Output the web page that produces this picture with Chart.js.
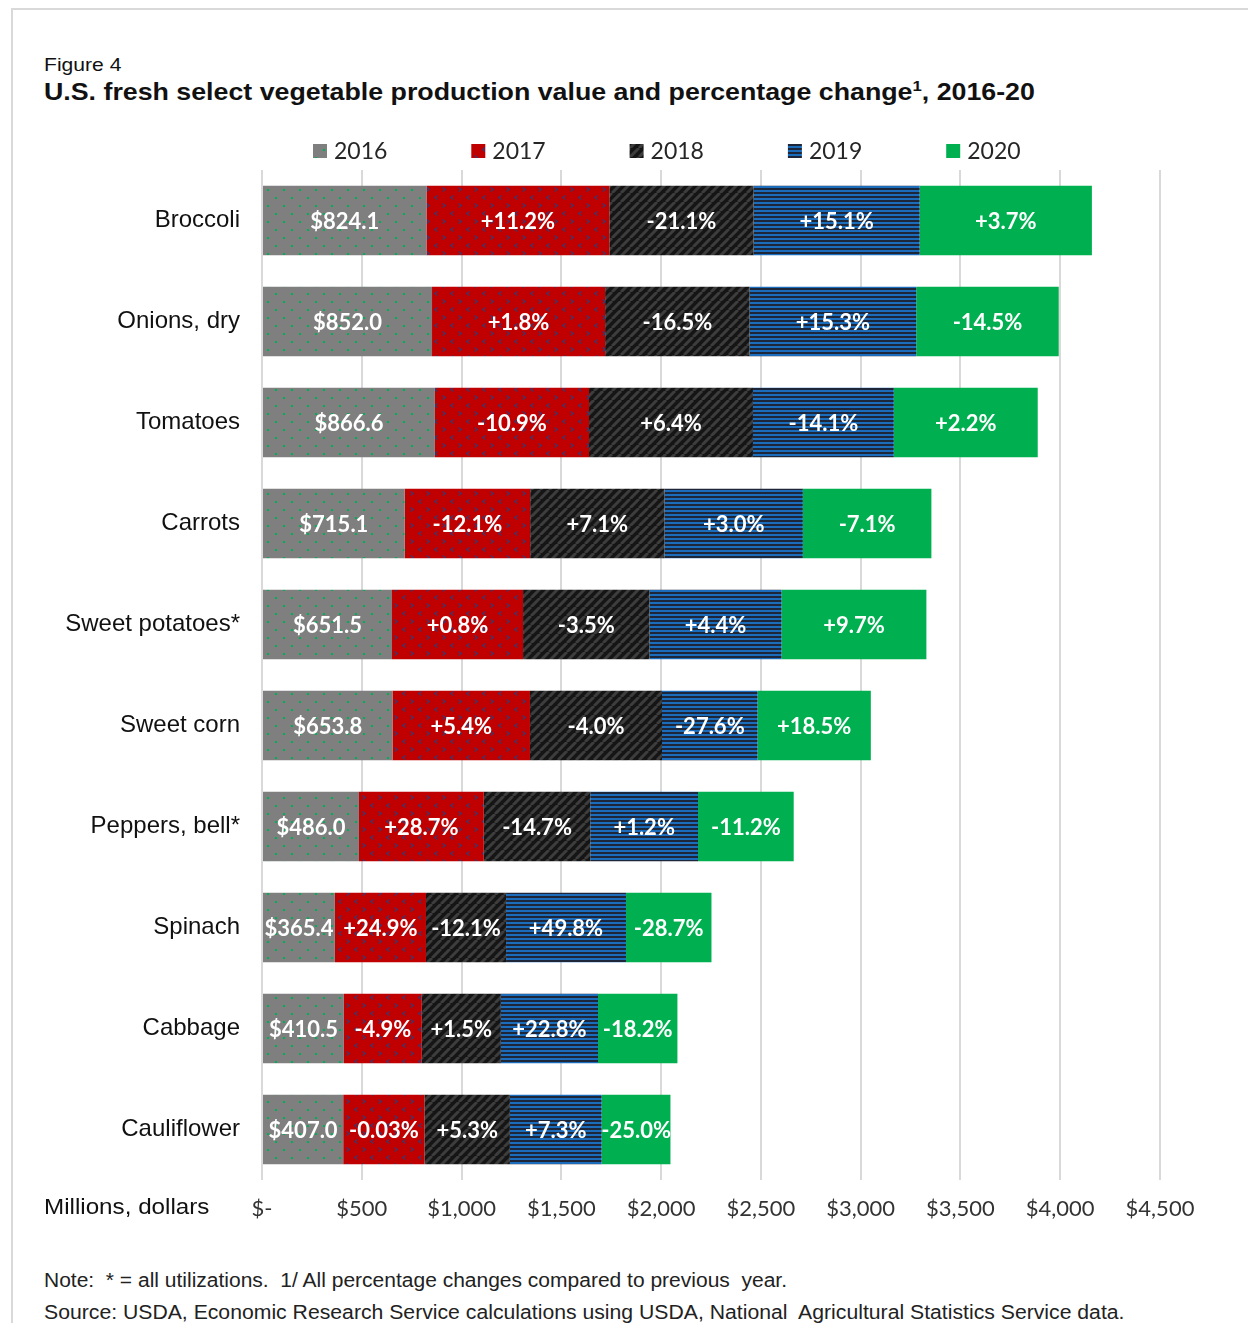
<!DOCTYPE html>
<html>
<head>
<meta charset="utf-8">
<title>Figure 4</title>
<script src="https://cdn.jsdelivr.net/npm/chart.js@4.4.1/dist/chart.umd.min.js"></script>
<style>
  body { margin: 0; background: #fff; width: 1248px; height: 1323px; overflow: hidden; position: relative; font-family: "Liberation Sans", Arial, sans-serif; }
  .frame { position: absolute; left: 11px; top: 8px; width: 1300px; height: 1400px; border: 2px solid #d9d9d9; }
  .txt { position: absolute; line-height: 1; white-space: pre; color: #111; transform-origin: left center; }
  #fig { left: 44px; top: 55px; font-size: 19px; transform: scaleX(1.11); }
  #title { left: 44px; top: 80px; font-size: 24px; font-weight: bold; transform: scaleX(1.115); }
  #title sup { font-size: 15px; vertical-align: 9px; line-height: 0; }
  #units { left: 44px; top: 1196px; font-size: 22px; transform: scaleX(1.1); }
  #note { left: 44px; top: 1270px; font-size: 20px; color: #222; transform: scaleX(1.05); }
  #source { left: 44px; top: 1302px; font-size: 20px; color: #222; transform: scaleX(1.06); }
  #myChart { position: absolute; left: 0; top: 130px; }
</style>
</head>
<body>
<div class="frame"></div>
<div class="txt" id="fig">Figure 4</div>
<div class="txt" id="title">U.S. fresh select vegetable production value and percentage change<sup>1</sup>, 2016-20</div>
<canvas id="myChart" width="1248" height="1110"></canvas>
<div class="txt" id="units">Millions, dollars</div>
<div class="txt" id="note">Note:  * = all utilizations.  1/ All percentage changes compared to previous  year.</div>
<div class="txt" id="source">Source: USDA, Economic Research Service calculations using USDA, National  Agricultural Statistics Service data.</div>

<script>
const categories = ['Broccoli', 'Onions, dry', 'Tomatoes', 'Carrots', 'Sweet potatoes*',
  'Sweet corn', 'Peppers, bell*', 'Spinach', 'Cabbage', 'Cauliflower'];
const years = ['2016', '2017', '2018', '2019', '2020'];

// 2016 value in millions of dollars, then % change on the previous year
const value2016 = [824.1, 852.0, 866.6, 715.1, 651.5, 653.8, 486.0, 365.4, 410.5, 407.0];
const change2017 = [11.2, 1.8, -10.9, -12.1, 0.8, 5.4, 28.7, 24.9, -4.9, -0.03];
const change2018 = [-21.1, -16.5, 6.4, 7.1, -3.5, -4.0, -14.7, -12.1, 1.5, 5.3];
const change2019 = [15.1, 15.3, -14.1, 3.0, 4.4, -27.6, 1.2, 49.8, 22.8, 7.3];
const change2020 = [3.7, -14.5, 2.2, -7.1, 9.7, 18.5, -11.2, -28.7, -18.2, -25.0];

const xTicks = [0, 500, 1000, 1500, 2000, 2500, 3000, 3500, 4000, 4500];

// each year's value follows from the year before and its % change
const changes = [change2017, change2018, change2019, change2020];
const yearValues = [value2016];
changes.forEach(function (chg) {
  var prev = yearValues[yearValues.length - 1];
  yearValues.push(prev.map(function (v, i) { return v * (1 + chg[i] / 100); }));
});

function pctLabel(c) {
  var s = Math.abs(c) < 0.1 ? c.toFixed(2) : c.toFixed(1);
  return (c > 0 ? '+' : '') + s;
}
const labelText = [value2016.map(function (v) { return '$' + v.toFixed(1); })];
changes.forEach(function (chg) {
  labelText.push(chg.map(function (c) { return pctLabel(c) + '%'; }));
});

var ctx = document.getElementById('myChart').getContext('2d');

// --- fill patterns ---
function tile(w, h, draw) {
  var c = document.createElement('canvas');
  c.width = w; c.height = h;
  draw(c.getContext('2d'));
  return ctx.createPattern(c, 'repeat');
}

var dotsGray = tile(16, 16, function (g) {
  g.fillStyle = '#7f7f7f'; g.fillRect(0, 0, 16, 16);
  g.fillStyle = '#00b050';
  g.fillRect(3, 3, 2, 2);
  g.fillRect(11, 11, 2, 2);
});

var chevronRed = tile(16, 16, function (g) {
  g.fillStyle = '#c00000'; g.fillRect(0, 0, 16, 16);
  g.strokeStyle = '#2e3c78'; g.lineWidth = 1.3;
  g.beginPath();
  g.moveTo(5, 1.5); g.lineTo(3, 3.5); g.lineTo(5, 5.5);
  g.moveTo(11, 9.5); g.lineTo(13, 11.5); g.lineTo(11, 13.5);
  g.stroke();
});

var stripeBlack = tile(9, 9, function (g) {
  g.fillStyle = '#151515'; g.fillRect(0, 0, 9, 9);
  g.strokeStyle = '#3d3d3d'; g.lineWidth = 3;
  g.beginPath();
  [-9, 0, 9].forEach(function (o) {
    g.moveTo(o, 9); g.lineTo(o + 9, 0);
  });
  g.stroke();
});

var linesBlue = tile(4, 4, function (g) {
  g.fillStyle = '#1b6dbb'; g.fillRect(0, 0, 4, 2);
  g.fillStyle = '#1d2739'; g.fillRect(0, 2, 4, 2);
});

const fills = [dotsGray, chevronRed, stripeBlack, linesBlue, '#00b050'];

// white value / change text centred in every segment
const segmentLabels = {
  id: 'segmentLabels',
  afterDatasetsDraw: function (chart) {
    var c = chart.ctx;
    c.save();
    c.fillStyle = '#ffffff';
    c.font = 'bold 22px Lato, "Open Sans", sans-serif';
    c.textAlign = 'center';
    c.textBaseline = 'middle';
    chart.data.datasets.forEach(function (ds, d) {
      chart.getDatasetMeta(d).data.forEach(function (bar, i) {
        c.fillText(labelText[d][i], (bar.x + bar.base) / 2, bar.y + 1);
      });
    });
    c.restore();
  }
};

// legend row above the plot
const topLegend = {
  id: 'topLegend',
  afterDraw: function (chart) {
    var c = chart.ctx;
    var x0 = chart.chartArea.left + 51;
    c.save();
    c.font = '23px Lato, "Open Sans", sans-serif';
    c.textBaseline = 'middle';
    c.textAlign = 'left';
    years.forEach(function (y, i) {
      var x = x0 + i * 158.3;
      c.fillStyle = fills[i];
      c.fillRect(x, 14, 14, 14);
      c.fillStyle = '#262626';
      c.fillText(y, x + 21, 22);
    });
    c.restore();
  }
};

const data = {
  labels: categories,
  datasets: years.map(function (y, i) {
    return {
      label: y,
      data: yearValues[i],
      backgroundColor: fills[i],
      borderWidth: 0,
      categoryPercentage: 1.0,
      barPercentage: 0.69
    };
  })
};

const config = {
  type: 'bar',
  data: data,
  plugins: [segmentLabels, topLegend],
  options: {
    indexAxis: 'y',
    responsive: false,
    animation: false,
    layout: { padding: { top: 40, right: 88, left: 0, bottom: 0 } },
    plugins: {
      legend: { display: false },
      title: { display: false },
      tooltip: { enabled: false }
    },
    scales: {
      x: {
        stacked: true,
        min: 0,
        max: 4500,
        afterBuildTicks: function (scale) {
          scale.ticks = xTicks.map(function (v) { return { value: v }; });
        },
        afterFit: function (scale) { scale.height = 60; },
        grid: { color: '#d9d9d9', lineWidth: 2, drawTicks: false },
        border: { display: false },
        ticks: {
          padding: 16,
          color: '#333333',
          font: { family: 'Lato', size: 22 },
          callback: function (v) { return v === 0 ? '$-' : '$' + v.toLocaleString('en-US'); }
        }
      },
      y: {
        stacked: true,
        afterFit: function (scale) { scale.width = 262; },
        grid: { display: false, drawTicks: false },
        border: { display: false },
        ticks: {
          padding: 22,
          color: '#111111',
          font: { family: '"Liberation Sans", Arial', size: 24 }
        }
      }
    }
  }
};

var myChart = new Chart(ctx, config);
</script>
</body>
</html>
